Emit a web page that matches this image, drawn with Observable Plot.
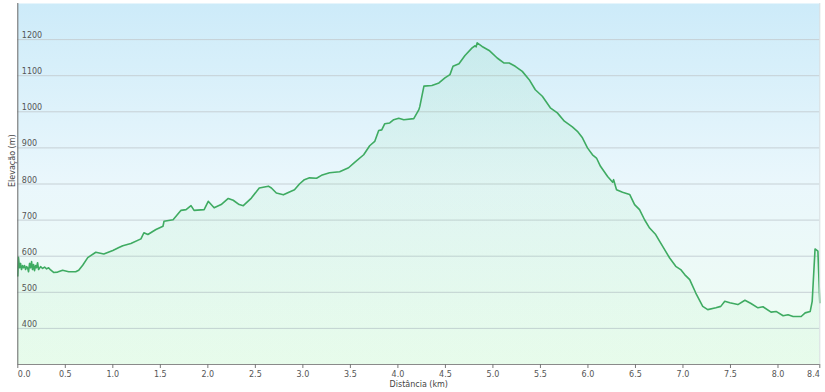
<!DOCTYPE html>
<html>
<head>
<meta charset="utf-8">
<script src="https://cdn.jsdelivr.net/npm/d3@7"></script>
<script src="https://cdn.jsdelivr.net/npm/@observablehq/plot@0.6"></script>
<style>
  html, body { margin: 0; padding: 0; background: #ffffff; }
  #chart { width: 825px; height: 392px; }
</style>
</head>
<body>
<div id="chart"></div>
<script>
const distance = [
  0.000, 0.007, 0.018, 0.029, 0.039, 0.050, 0.060, 0.071, 0.082, 0.092,
  0.103, 0.113, 0.124, 0.134, 0.145, 0.155, 0.166, 0.176, 0.187, 0.197,
  0.208, 0.219, 0.240, 0.261, 0.282, 0.303, 0.324, 0.345, 0.377, 0.419,
  0.472, 0.536, 0.609, 0.641, 0.683, 0.736, 0.821, 0.905, 1.000, 1.064,
  1.105, 1.190, 1.296, 1.327, 1.369, 1.454, 1.528, 1.539, 1.634, 1.718,
  1.771, 1.823, 1.855, 1.961, 2.004, 2.066, 2.140, 2.215, 2.267, 2.330,
  2.373, 2.458, 2.541, 2.637, 2.669, 2.721, 2.795, 2.859, 2.912, 2.964,
  3.016, 3.070, 3.144, 3.196, 3.281, 3.387, 3.481, 3.545, 3.640, 3.703,
  3.756, 3.798, 3.830, 3.862, 3.914, 3.956, 4.009, 4.062, 4.167, 4.221,
  4.231, 4.274, 4.358, 4.432, 4.495, 4.548, 4.580, 4.643, 4.706, 4.781,
  4.813, 4.823, 4.834, 4.886, 4.960, 5.045, 5.118, 5.171, 5.235, 5.309,
  5.382, 5.446, 5.520, 5.604, 5.678, 5.752, 5.836, 5.889, 5.942, 5.995,
  6.048, 6.090, 6.132, 6.207, 6.260, 6.270, 6.301, 6.364, 6.439, 6.491,
  6.543, 6.596, 6.649, 6.713, 6.755, 6.807, 6.860, 6.924, 6.976, 7.018,
  7.071, 7.135, 7.208, 7.261, 7.346, 7.398, 7.440, 7.493, 7.578, 7.652,
  7.716, 7.789, 7.842, 7.927, 7.980, 8.054, 8.106, 8.159, 8.244, 8.286,
  8.339, 8.360, 8.390, 8.420, 8.440
];
const elevation = [
  545, 597, 568, 580, 563, 574, 568, 574, 563, 571,
  568, 557, 580, 568, 585, 563, 577, 560, 574, 568,
  582, 563, 571, 566, 570, 565, 568, 562, 555, 556,
  561, 557, 557, 561, 575, 596, 611, 606, 616, 624,
  629, 635, 648, 665, 660, 674, 683, 697, 701, 727,
  729, 740, 727, 729, 752, 734, 743, 760, 755, 743,
  740, 761, 789, 794, 789, 775, 770, 778, 784, 800,
  812, 817, 816, 824, 831, 834, 845, 860, 881, 906,
  918, 948, 950, 967, 969, 978, 982, 978, 981, 1006,
  1015, 1071, 1073, 1080, 1094, 1103, 1126, 1133, 1156, 1177,
  1183, 1180, 1191, 1181, 1170, 1149, 1135, 1135, 1126, 1112,
  1089, 1061, 1043, 1011, 997, 974, 958, 946, 928, 900,
  881, 872, 849, 821, 805, 812, 784, 777, 771, 743,
  729, 701, 678, 660, 641, 618, 595, 572, 563, 549,
  535, 498, 461, 452, 457, 461, 475, 471, 466, 478,
  469, 457, 460, 445, 447, 435, 438, 433, 433, 443,
  447, 475, 620, 614, 471
];
const yTicks = [400, 500, 600, 700, 800, 900, 1000, 1100, 1200];
const yTickLabels = ["400", "500", "600", "700", "800", "900", "1000", "1100", "1200"];
const xTicks = [0, 0.5, 1.0, 1.5, 2.0, 2.5, 3.0, 3.5, 4.0, 4.5, 5.0, 5.5, 6.0, 6.5, 7.0, 7.5, 8.0, 8.44];
const xTickLabels = ["0.0", "0.5", "1.0", "1.5", "2.0", "2.5", "3.0", "3.5", "4.0", "4.5", "5.0", "5.5", "6.0", "6.5", "7.0", "7.5", "8.0", "8.4"];
const xTitle = "Distância (km)";
const yTitle = "Elevação (m)";

const data = distance.map((d, i) => ({distance: d, elevation: elevation[i]}));
const yTickData = yTicks.map((v, i) => ({v, label: yTickLabels[i]}));
const xTickData = xTicks.map((v, i) => ({v, label: xTickLabels[i]}));
const xMid = xTickData.slice(1, -1);
const xFirst = xTickData.slice(0, 1);
const xLast = xTickData.slice(-1);

const defs = () => {
  const g = d3.create("svg:defs");
  const bg = g.append("linearGradient").attr("id", "bgGrad").attr("x1", 0).attr("y1", 0).attr("x2", 0).attr("y2", 1);
  bg.append("stop").attr("offset", "0%").attr("stop-color", "#cdebf9");
  bg.append("stop").attr("offset", "50%").attr("stop-color", "#eaf7fc");
  bg.append("stop").attr("offset", "100%").attr("stop-color", "#effdf1");
  const ar = g.append("linearGradient").attr("id", "areaGrad").attr("x1", 0).attr("y1", 0).attr("x2", 0).attr("y2", 1);
  ar.append("stop").attr("offset", "0%").attr("stop-color", "#5fd07a").attr("stop-opacity", 0.10);
  ar.append("stop").attr("offset", "100%").attr("stop-color", "#7ee896").attr("stop-opacity", 0.07);
  return g.node();
};

const chart = Plot.plot({
  width: 825,
  height: 392,
  marginTop: 3,
  marginLeft: 17.3,
  marginRight: 5.7,
  marginBottom: 28,
  style: {fontFamily: "'DejaVu Sans', Verdana, sans-serif", fontSize: "8px", background: "#ffffff", color: "#555"},
  x: {domain: [0, 8.44], axis: null},
  y: {domain: [300, 1300], axis: null},
  marks: [
    defs,
    Plot.frame({fill: "url(#bgGrad)", stroke: "none"}),
    Plot.ruleY(yTickData, {y: "v", stroke: "#c6d0d5", strokeWidth: 1}),
    Plot.areaY(data, {x: "distance", y1: 300, y2: "elevation", fill: "url(#areaGrad)"}),
    Plot.line(data, {x: "distance", y: "elevation", stroke: "#3fab62", strokeWidth: 1.6, strokeLinejoin: "round"}),
    Plot.text(yTickData, {x: 0, y: "v", text: "label", textAnchor: "start", lineAnchor: "bottom", dx: 4, dy: -1.5, fill: "#555"}),
    Plot.ruleX([8.44], {stroke: "#d8dde0"}),
    Plot.ruleY([300], {stroke: "#8a8a8a"}),
    Plot.ruleX([0], {stroke: "#666"}),
    Plot.axisX({ticks: xTicks, tickFormat: () => "", tickSize: 4, stroke: "#777"}),
    Plot.text(xMid, {x: "v", text: "label", frameAnchor: "bottom", lineAnchor: "middle", dy: 10, fill: "#555"}),
    Plot.text(xFirst, {x: "v", text: "label", frameAnchor: "bottom", lineAnchor: "middle", textAnchor: "start", dy: 10, dx: 0, fill: "#555"}),
    Plot.text(xLast, {x: "v", text: "label", frameAnchor: "bottom", lineAnchor: "middle", textAnchor: "end", dy: 10, dx: 0, fill: "#555"}),
    Plot.text([xTitle], {frameAnchor: "bottom", lineAnchor: "middle", dy: 20, fill: "#444"}),
    Plot.text([yTitle], {frameAnchor: "left", rotate: -90, lineAnchor: "middle", dx: -5.6, dy: 3, fill: "#444"})
  ]
});
document.getElementById("chart").appendChild(chart);
</script>
</body>
</html>
